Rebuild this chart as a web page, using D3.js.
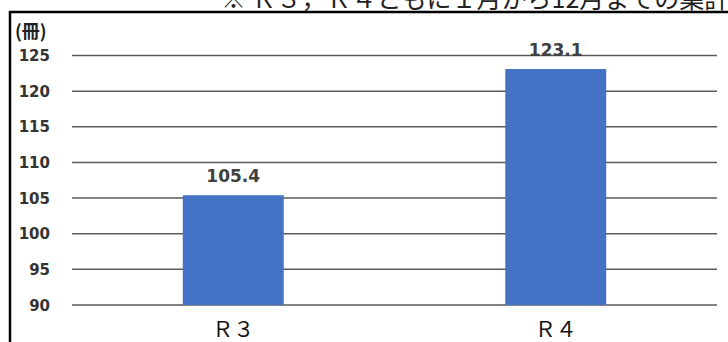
<!DOCTYPE html>
<html lang="ja">
<head>
  <meta charset="UTF-8">
  <title>冊数 R3 / R4</title>
  <style>
    body { margin: 0; background: #fff; }
    svg { display: block; }
  </style>
  <script src="https://cdn.jsdelivr.net/npm/d3@7"></script>
</head>
<body>
<script>
  var categories = ["Ｒ３", "Ｒ４"];
  var values = [105.4, 123.1];
  var yTicks = [90, 95, 100, 105, 110, 115, 120, 125];
  var unitLabel = "(冊)";
  var note = "※ Ｒ３，Ｒ４ともに１月から12月までの集計";

  var W = 728, H = 342;
  var plotL = 72, plotR = 717, plotT = 55.5, plotB = 305;

  var svg = d3.select("body").append("svg")
    .attr("width", W)
    .attr("height", H);

  svg.append("rect").attr("width", W).attr("height", H).attr("fill", "#fff");

  // note above the frame, cut off at the top of the picture
  svg.append("text")
    .attr("x", 221)
    .attr("y", 8)
    .attr("font-family", "'Noto Sans CJK JP', sans-serif")
    .attr("font-size", 25)
    .attr("fill", "#222")
    .text(note);

  // frame
  svg.append("line").attr("x1", 9).attr("x2", W).attr("y1", 12).attr("y2", 12)
    .attr("stroke", "#000").attr("stroke-width", 2.5);
  svg.append("line").attr("x1", 10).attr("x2", 10).attr("y1", 11).attr("y2", H)
    .attr("stroke", "#000").attr("stroke-width", 2.5);

  var y = d3.scaleLinear().domain([90, 125]).range([plotB, plotT]);
  var x = d3.scaleBand().domain(categories).range([plotL, plotR])
    .paddingInner(0.687).paddingOuter(0.3435);

  // gridlines
  svg.append("g").selectAll("line").data(yTicks).join("line")
    .attr("x1", plotL).attr("x2", plotR)
    .attr("y1", function(d) { return y(d); })
    .attr("y2", function(d) { return y(d); })
    .attr("stroke", "#5a5a5a")
    .attr("stroke-width", 1.5);

  // y tick labels
  svg.append("g").selectAll("text").data(yTicks).join("text")
    .attr("x", 50)
    .attr("y", function(d) { return y(d) + 5.5; })
    .attr("text-anchor", "end")
    .attr("font-family", "'DejaVu Sans', sans-serif")
    .attr("font-weight", "bold")
    .attr("font-size", 15)
    .attr("fill", "#333")
    .text(function(d) { return d; });

  svg.append("text")
    .attr("x", 15)
    .attr("y", 38)
    .attr("font-family", "'Noto Sans CJK JP', sans-serif")
    .attr("font-weight", "bold")
    .attr("font-size", 18)
    .attr("fill", "#222")
    .text(unitLabel);

  // bars
  svg.append("g").selectAll("rect").data(values).join("rect")
    .attr("x", function(d, i) { return x(categories[i]); })
    .attr("width", x.bandwidth())
    .attr("y", function(d) { return y(d); })
    .attr("height", function(d) { return y(90) - y(d); })
    .attr("fill", "#4472c4");

  // value labels
  svg.append("g").selectAll("text").data(values).join("text")
    .attr("x", function(d, i) { return x(categories[i]) + x.bandwidth() / 2; })
    .attr("y", function(d) { return y(d) - 13; })
    .attr("text-anchor", "middle")
    .attr("font-family", "'DejaVu Sans', sans-serif")
    .attr("font-weight", "bold")
    .attr("font-size", 17)
    .attr("fill", "#404040")
    .text(function(d) { return d.toFixed(1); });

  // category labels
  svg.append("g").selectAll("text").data(categories).join("text")
    .attr("x", function(d) { return x(d) + x.bandwidth() / 2; })
    .attr("y", 337)
    .attr("text-anchor", "middle")
    .attr("font-family", "'Noto Sans CJK JP', sans-serif")
    .attr("font-size", 21)
    .attr("fill", "#111")
    .text(function(d) { return d; });
</script>
</body>
</html>
